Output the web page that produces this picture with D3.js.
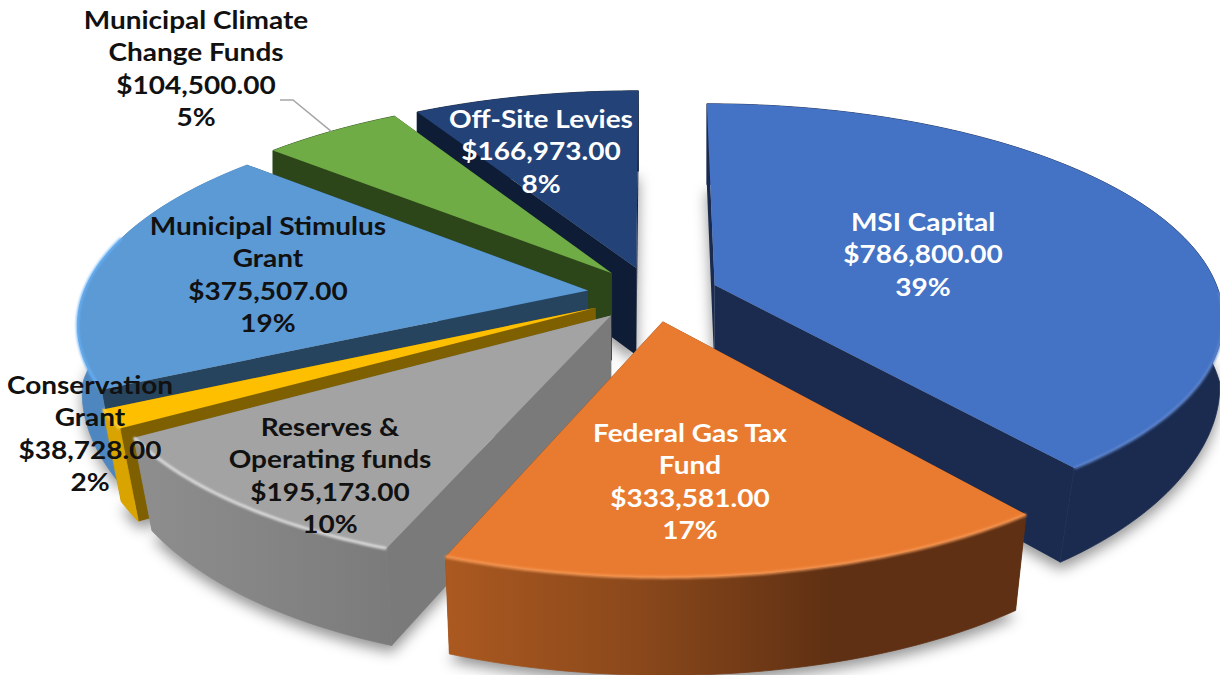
<!DOCTYPE html>
<html>
<head>
<meta charset="utf-8">
<style>
  html, body { margin: 0; padding: 0; background: #fff; }
  svg { display: block; }
  text { font-family: Lato, "Open Sans", sans-serif; font-weight: 700; font-size: 25px; text-anchor: middle; }
</style>
<script src="https://cdnjs.cloudflare.com/ajax/libs/d3/7.8.5/d3.min.js"></script>
</head>
<body>
<div id="chart"></div>
<script>
// values, clockwise from 12 o'clock
var categories = [
    ["MSI Capital"],
    ["Federal Gas Tax", "Fund"],
    ["Reserves &", "Operating funds"],
    ["Conservation", "Grant"],
    ["Municipal Stimulus", "Grant"],
    ["Municipal Climate", "Change Funds"],
    ["Off-Site Levies"]
];
var amounts = [786800, 333581, 195173, 38728, 375507, 104500, 166973];

// styles, same order as the slices
var topColors = ["#4472c4", "#e97b30", "#a3a3a3", "#fdbf00", "#5b9ad5", "#6fac46", "#234378"];
var sideColors = ["#1a2b4f", "#5f3013", "#7a7a7a", "#7f6000", "#27445f", "#2d4619", "#0e1c36"];
var wallStops = [
    ["#1a2b4f", "#1a2b4f"],
    ["#ab5920", "#8a481b", "#5f3013", "#5f3013"],
    ["#8e8e8e", "#858585", "#7b7b7b"],
    ["#d9a400", "#d9a400"],
    ["#4e87bf", "#4e87bf"],
    ["#2d4619", "#2d4619"],
    ["#0e1c36", "#0e1c36"]
];
var rimColors = ["#5f86d0", "#f79a58", "#e6e6e6", "#ffd34d", "#68b2f8", "#6fac46", "#234378"];
var textColors = ["#fff", "#fff", "#111", "#111", "#111", "#111", "#fff"];

// label centres, x then y of the first line
var labelX = [923, 690, 330, 90, 268, 196, 541];
var labelY = [222, 433, 427, 385, 226, 20, 119];
var lineStep = 32.4;
var textStretch = 1.12;

var width = 1220,
    height = 675;

// projection of the tilted pie, fitted to the picture
var explode = 0.13,
    perspective = 0.145,
    depth = 88,
    shrink = 0.035;

var x = d3.scaleLinear().domain([-1, 1]).range([653 - 505, 653 + 505]);
var y = d3.scaleLinear().domain([-1, 1]).range([294 - 210, 294 + 210]);

function project(px, pf, low) {
    var s = 1 / (1 - perspective * pf),
        sx = x(px * s),
        sy = y(pf * s);
    if (low) {
        // sides lean in a little towards the front
        var lean = pf > 0 ? shrink * Math.sin(Math.PI * Math.min(pf, 1.3) / 1.3) : 0;
        sx = x(0) + (sx - x(0)) * (1 - lean);
        sy = sy + depth * Math.pow(s, 0.6);
    }
    return [sx, sy];
}

var total = d3.sum(amounts);
var money = d3.format("$,.2f"),
    percent = d3.format(".0%");

var pie = d3.pie().sort(null).value(function(d) { return d; });

var slices = pie(amounts).map(function(d, i) {
    var mid = (d.startAngle + d.endAngle) / 2;
    return {
        i: i,
        a0: d.startAngle,
        a1: d.endAngle,
        mid: mid,
        ax: explode * Math.sin(mid),
        af: -explode * Math.cos(mid)
    };
});

// the grey slice overlaps the thin one a little in the picture
var degree = Math.PI / 180;
slices[2].a1 += 1.9 * degree;
slices[3].a0 += 1.9 * degree;

// back to front
var drawOrder = slices.slice().sort(function(a, b) { return d3.ascending(a.af, b.af); });

function apex(d, low) {
    return project(d.ax, d.af, low);
}

function rimPoint(d, angle, low) {
    return project(d.ax + Math.sin(angle), d.af - Math.cos(angle), low);
}

function arcPoints(d, a0, a1, low) {
    var n = Math.max(2, Math.ceil((a1 - a0) / 0.02));
    return d3.range(n + 1).map(function(k) {
        return rimPoint(d, a0 + (a1 - a0) * k / n, low);
    });
}

var line = d3.line();

function closed(points) {
    return line(points) + "Z";
}

var svg = d3.select("#chart").append("svg")
    .attr("width", width)
    .attr("height", height);

var defs = svg.append("defs");

defs.append("filter").attr("id", "soft")
    .attr("x", "-20%").attr("y", "-20%").attr("width", "140%").attr("height", "140%")
    .append("feGaussianBlur").attr("stdDeviation", 7);

defs.append("filter").attr("id", "rim")
    .attr("x", "-10%").attr("y", "-10%").attr("width", "120%").attr("height", "120%")
    .append("feGaussianBlur").attr("stdDeviation", 1.3);

slices.forEach(function(d) {
    var x0 = rimPoint(d, d.a1, false)[0],
        x1 = rimPoint(d, d.a0, false)[0];
    var stops = wallStops[d.i];
    defs.append("linearGradient")
        .attr("id", "wall-" + d.i)
        .attr("gradientUnits", "userSpaceOnUse")
        .attr("x1", x0).attr("x2", x1).attr("y1", 0).attr("y2", 0)
        .selectAll("stop")
        .data(stops).enter()
        .append("stop")
        .attr("offset", function(c, k) { return k / (stops.length - 1); })
        .attr("stop-color", function(c) { return c; });
});

// soft shadow under the whole pie
svg.append("g")
    .attr("class", "shadows")
    .attr("filter", "url(#soft)")
    .attr("transform", "translate(0,7)")
    .selectAll("path")
    .data(slices).enter()
    .append("path")
    .attr("d", function(d) {
        return closed([apex(d, true)].concat(arcPoints(d, d.a0, d.a1, true)));
    })
    .attr("fill", "#000")
    .attr("fill-opacity", 0.42);

var groups = svg.selectAll(".slice")
    .data(drawOrder).enter()
    .append("g")
    .attr("class", "slice");

// radial walls
groups.append("path")
    .attr("d", function(d) {
        return closed([apex(d, false), rimPoint(d, d.a0, false), rimPoint(d, d.a0, true), apex(d, true)]);
    })
    .attr("fill", function(d) { return sideColors[d.i]; });

groups.append("path")
    .attr("d", function(d) {
        return closed([apex(d, false), rimPoint(d, d.a1, false), rimPoint(d, d.a1, true), apex(d, true)]);
    })
    .attr("fill", function(d) { return sideColors[d.i]; });

// outer wall
groups.append("path")
    .attr("d", function(d) {
        return closed(arcPoints(d, d.a0, d.a1, false).concat(arcPoints(d, d.a0, d.a1, true).reverse()));
    })
    .attr("fill", function(d) { return "url(#wall-" + d.i + ")"; })
    .attr("stroke", function(d) { return "url(#wall-" + d.i + ")"; })
    .attr("stroke-width", 0.8);

// top face
groups.append("path")
    .attr("d", function(d) {
        return closed([apex(d, false)].concat(arcPoints(d, d.a0, d.a1, false)));
    })
    .attr("fill", function(d) { return topColors[d.i]; });

// lit edge where the top meets the outer wall, front part only
var rimFrom = 92 * degree,
    rimTo = 285 * degree;

groups.filter(function(d) { return d.a1 > rimFrom && d.a0 < rimTo; })
    .append("path")
    .attr("d", function(d) {
        return line(arcPoints(d, Math.max(d.a0, rimFrom), Math.min(d.a1, rimTo), false));
    })
    .attr("fill", "none")
    .attr("stroke", function(d) { return rimColors[d.i]; })
    .attr("stroke-width", 3)
    .attr("stroke-opacity", 0.85)
    .attr("filter", "url(#rim)");

// leader line for the climate funds label
var climate = slices[5];
var leaderEnd = rimPoint(climate, climate.mid, false);
svg.append("path")
    .attr("d", line([[280, 100], [293, 100], leaderEnd]))
    .attr("fill", "none")
    .attr("stroke", "#a6a6a6")
    .attr("stroke-width", 1.5);

// labels, one text per row
var rows = [];
slices.forEach(function(d) {
    categories[d.i].concat([money(amounts[d.i]), percent(amounts[d.i] / total)]).forEach(function(r, k) {
        rows.push({ text: r, i: d.i, k: k });
    });
});

svg.selectAll(".label")
    .data(rows).enter()
    .append("text")
    .attr("class", "label")
    .attr("fill", function(r) { return textColors[r.i]; })
    .attr("dy", "0.35em")
    .attr("transform", function(r) {
        return "translate(" + labelX[r.i] + "," + (labelY[r.i] + r.k * lineStep) + ") scale(" + textStretch + ",1)";
    })
    .text(function(r) { return r.text; });
</script>
</body>
</html>
